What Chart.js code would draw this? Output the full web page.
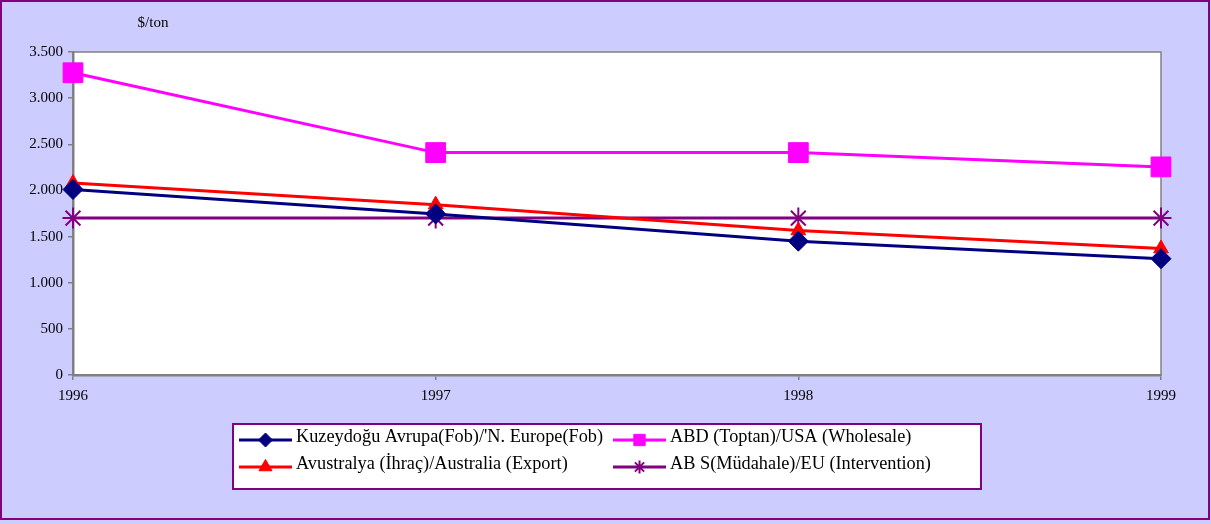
<!DOCTYPE html>
<html>
<head>
<meta charset="utf-8">
<script src="https://cdn.jsdelivr.net/npm/chart.js@4/dist/chart.umd.min.js"></script>
<style>
html,body{margin:0;padding:0;background:#ccccff;}
#wrap{width:1211px;height:524px;position:relative;}
</style>
</head>
<body>
<div id="wrap"><canvas id="c"></canvas></div>
<script>
const years = ['1996', '1997', '1998', '1999'];
const northEurope = [2010, 1745, 1450, 1260];
const usaWholesale = [3275, 2410, 2410, 2255];
const australia = [2080, 1845, 1565, 1370];
const euIntervention = [1700, 1700, 1700, 1700];
const seriesNames = [
  "Kuzeydoğu Avrupa(Fob)/'N. Europe(Fob)",
  "ABD (Toptan)/USA (Wholesale)",
  "Avustralya (İhraç)/Australia (Export)",
  "AB S(Müdahale)/EU (Intervention)"
];
const yTitle = '$/ton';
const yMin = 0, yMax = 3500, yStep = 500;

const FONT = "'Liberation Serif', 'Times New Roman', serif";

function fmt(v){
  return String(v).replace(/\B(?=(\d{3})+(?!\d))/g, '.');
}

const datasets = [
  {label: seriesNames[0], data: northEurope, borderColor:'#000080', backgroundColor:'#000080',
   pointStyle:'rectRot', pointRadius:10, legendRadius:7},
  {label: seriesNames[1], data: usaWholesale, borderColor:'#ff00ff', backgroundColor:'#ff00ff',
   pointStyle:'rect', pointRadius:14, legendRadius:8},
  {label: seriesNames[2], data: australia, borderColor:'#ff0000', backgroundColor:'#ff0000',
   pointStyle:'triangle', pointRadius:8.5, legendRadius:7.5},
  {label: seriesNames[3], data: euIntervention, borderColor:'#800080', backgroundColor:'#800080',
   pointStyle:'star', pointRadius:10.5, legendRadius:6.5, pointBorderWidth:2}
].map(d => Object.assign({
  borderWidth:3, tension:0, pointBorderColor:d.borderColor, pointBackgroundColor:d.backgroundColor,
  pointBorderWidth:1, pointHoverRadius:d.pointRadius, clip:false
}, d));

const deco = {
  id:'deco',
  beforeDraw(chart){
    const ctx = chart.ctx, a = chart.chartArea;
    ctx.save();
    ctx.fillStyle = '#ccccff';
    ctx.fillRect(0,0,chart.width,chart.height);
    ctx.strokeStyle = '#800080';
    ctx.lineWidth = 2;
    ctx.strokeRect(1,1,chart.width-3,chart.height-6);
    ctx.fillStyle = '#ffffff';
    ctx.fillRect(a.left,a.top,a.right-a.left,a.bottom-a.top);
    ctx.strokeStyle = '#808080';
    ctx.lineWidth = 1.5;
    ctx.strokeRect(a.left,a.top,a.right-a.left,a.bottom-a.top);
    ctx.fillStyle = '#000';
    ctx.font = '15px ' + FONT;
    ctx.textAlign = 'center';
    ctx.textBaseline = 'middle';
    ctx.fillText(yTitle, a.left + 80, a.top - 29);
    ctx.restore();
  },
  afterDraw(chart){
    const ctx = chart.ctx;
    ctx.save();
    const bx = 233, by = 424, bw = 748, bh = 65;
    ctx.fillStyle = '#ffffff';
    ctx.fillRect(bx,by,bw,bh);
    ctx.strokeStyle = '#800080';
    ctx.lineWidth = 2;
    ctx.strokeRect(bx,by,bw,bh);
    const cols = [239, 613];
    const rows = [440, 467];
    const order = [[0,0,0],[1,1,0],[2,0,1],[3,1,1]];
    ctx.font = '18.3px ' + FONT;
    ctx.textBaseline = 'middle';
    ctx.textAlign = 'left';
    order.forEach(([di,c,r]) => {
      const ds = chart.data.datasets[di];
      const x0 = cols[c], y = rows[r];
      ctx.strokeStyle = ds.borderColor;
      ctx.lineWidth = 3;
      ctx.beginPath();
      ctx.moveTo(x0, y);
      ctx.lineTo(x0+53, y);
      ctx.stroke();
      ctx.lineWidth = ds.pointStyle==='star'?2:1;
      ctx.fillStyle = ds.backgroundColor;
      ctx.strokeStyle = ds.borderColor;
      Chart.helpers.drawPoint(ctx, {
        pointStyle: ds.pointStyle, radius: ds.legendRadius, rotation:0,
        borderWidth: ds.pointStyle==='star'?2:1
      }, x0+26.5, y);
      ctx.fillStyle = '#000';
      ctx.fillText(ds.label, x0+57, y-3);
    });
    ctx.restore();
  }
};

new Chart(document.getElementById('c'), {
  type:'line',
  data:{labels: years, datasets},
  options:{
    responsive:true, maintainAspectRatio:false, animation:false,
    layout:{padding:{top:52, right:50, bottom:109, left:0}},
    plugins:{legend:{display:false}, tooltip:{enabled:false}},
    scales:{
      x:{
        offset:false,
        grid:{display:true, drawOnChartArea:false, drawTicks:true, tickLength:5, color:'#808080', lineWidth:1.5},
        border:{display:true, color:'#808080', width:2.5},
        ticks:{font:{family:FONT, size:15}, color:'#000', padding:7, maxRotation:0, autoSkip:false},
        afterFit(s){ s.height = 40; }
      },
      y:{
        min:yMin, max:yMax,
        grid:{display:true, drawOnChartArea:false, drawTicks:true, tickLength:5, color:'#808080', lineWidth:1.5},
        border:{display:true, color:'#808080', width:2.5},
        ticks:{stepSize:yStep, font:{family:FONT, size:15}, color:'#000', padding:5, callback:(v)=>fmt(v)},
        afterFit(s){ s.width = 73; }
      }
    }
  },
  plugins:[deco]
});
</script>
</body>
</html>
